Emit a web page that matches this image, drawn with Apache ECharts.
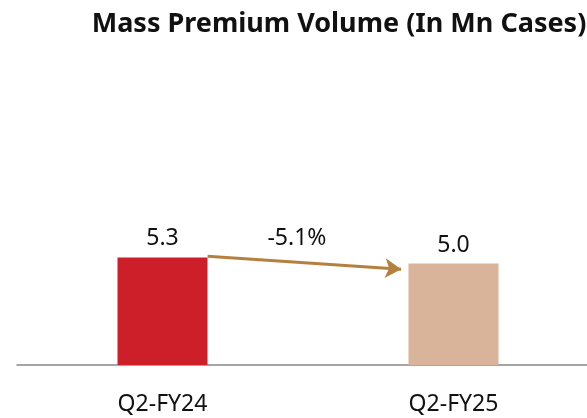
<!DOCTYPE html>
<html>
<head>
<meta charset="utf-8">
<script src="https://cdn.jsdelivr.net/npm/echarts@6/dist/echarts.min.js"></script>
<style>
  html, body { margin: 0; padding: 0; background: #fff; }
  #chart { width: 587px; height: 418px; }
</style>
</head>
<body>
<div id="chart"></div>
<script>
// data
const categories = ["Q2-FY24", "Q2-FY25"];
const volumes = [5.3, 5.0];
const barColors = ["#CD1F2A", "#D9B49B"];
const changeLabel = "-5.1%";
// arrow ends, in [position along categories (0..2), volume]
const arrowFrom = [0.655, 5.36];
const arrowTo = [1.32, 4.72];

const FONT = "Noto Sans";

let myChart = echarts.init(document.getElementById("chart"));
myChart.setOption({
  animation: false,
  title: {
    text: "Mass Premium Volume (In Mn Cases)",
    left: 334,
    textAlign: "center",
    top: 6,
    textStyle: {
      fontFamily: FONT,
      fontWeight: "bold",
      fontSize: 27,
      color: "#111",
    },
  },
  grid: {
    left: 17,
    width: 582,
    top: 162,
    height: 203,
    outerBoundsMode: "none",
  },
  xAxis: [
    {
      type: "category",
      data: categories,
      axisTick: { show: false },
      axisLine: { lineStyle: { color: "#888", width: 1.5 } },
      axisLabel: {
        margin: 28,
        fontFamily: FONT,
        fontSize: 23,
        color: "#111",
      },
    },
    {
      type: "value",
      min: 0,
      max: 2,
      show: false,
    },
  ],
  yAxis: {
    type: "value",
    min: 0,
    max: 10,
    show: false,
    splitLine: { show: false },
  },
  series: [
    {
      type: "bar",
      barWidth: 90,
      data: volumes.map((v, i) => ({ value: v, itemStyle: { color: barColors[i] } })),
      label: {
        show: true,
        position: "top",
        distance: 7,
        formatter: (p) => p.value.toFixed(1),
        fontFamily: FONT,
        fontSize: 23,
        color: "#111",
      },
    },
    {
      type: "scatter",
      xAxisIndex: 1,
      symbolSize: 0,
      itemStyle: { opacity: 1 },
      data: [[0.962, volumes[0] + 0.95]],
      label: {
        show: true,
        position: "inside",
        formatter: changeLabel,
        fontFamily: FONT,
        fontSize: 23,
        color: "#111",
      },
      markLine: {
        silent: true,
        symbol: ["none", "arrow"],
        symbolSize: [15, 16],
        lineStyle: { color: "#B5803E", width: 3, type: "solid" },
        label: { show: false },
        data: [[{ coord: arrowFrom }, { coord: arrowTo }]],
      },
    },
  ],
});
</script>
</body>
</html>
